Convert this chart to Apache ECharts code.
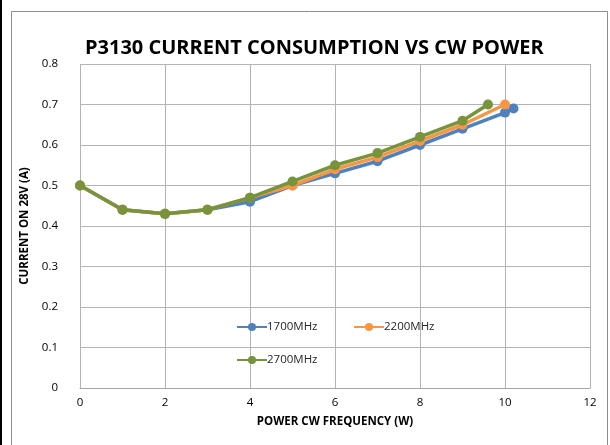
<!DOCTYPE html>
<html>
<head>
<meta charset="utf-8">
<script src="https://cdn.jsdelivr.net/npm/echarts@6/dist/echarts.min.js"></script>
<style>
  html, body { margin: 0; padding: 0; background: #fff; }
  #chart { width: 610px; height: 445px; }
</style>
</head>
<body>
<div id="chart"></div>
<script>
var seriesNames = ['1700MHz', '2200MHz', '2700MHz'];
var colors = ['#4f81bd', '#f79646', '#77933c'];

// x: power (W), y: current (A)
var x1700 = [0, 1, 2, 3, 4, 5, 6, 7, 8, 9, 10, 10.2];
var y1700 = [0.5, 0.44, 0.43, 0.44, 0.46, 0.50, 0.53, 0.56, 0.60, 0.64, 0.68, 0.69];
var x2200 = [0, 1, 2, 3, 4, 5, 6, 7, 8, 9, 10];
var y2200 = [0.5, 0.44, 0.43, 0.44, 0.47, 0.50, 0.54, 0.57, 0.61, 0.65, 0.70];
var x2700 = [0, 1, 2, 3, 4, 5, 6, 7, 8, 9, 9.6];
var y2700 = [0.5, 0.44, 0.43, 0.44, 0.47, 0.51, 0.55, 0.58, 0.62, 0.66, 0.70];

function pairs(xs, ys) {
    var res = [];
    for (var i = 0; i < xs.length; i++) res.push([xs[i], ys[i]]);
    return res;
}

var myChart = echarts.init(document.getElementById('chart'));
var font = 'Open Sans, Liberation Sans, sans-serif';

function makeSeries(idx, data) {
    return {
        name: seriesNames[idx],
        type: 'line',
        data: data,
        symbol: 'circle',
        symbolSize: 10,
        lineStyle: { width: 3.5, color: colors[idx] },
        itemStyle: { color: colors[idx] },
        z: 2 + idx
    };
}

var legendBase = {
    orient: 'horizontal',
    itemWidth: 30,
    itemHeight: 10,
    itemGap: 2,
    textStyle: { fontFamily: font, fontSize: 11.5, color: '#262626', padding: [0, 0, 0, -5] }
};

var option = {
    backgroundColor: '#fff',
    animation: false,
    color: colors,
    title: {
        text: 'P3130 CURRENT CONSUMPTION VS CW POWER',
        left: 80,
        top: 33,
        textStyle: { fontFamily: font, fontSize: 20, fontWeight: 'bold', color: '#000' }
    },
    legend: [
        Object.assign({}, legendBase, { data: [seriesNames[0]], left: 231, top: 316 }),
        Object.assign({}, legendBase, { data: [seriesNames[1]], left: 348, top: 316 }),
        Object.assign({}, legendBase, { data: [seriesNames[2]], left: 231, top: 349 })
    ],
    grid: { left: 80, right: 20, top: 64, bottom: 57 },
    xAxis: {
        type: 'value',
        min: 0,
        max: 12,
        interval: 2,
        name: 'POWER CW FREQUENCY (W)',
        nameLocation: 'middle',
        nameGap: 28,
        nameTextStyle: { fontFamily: font, fontSize: 11.5, fontWeight: 'bold', color: '#000' },
        axisLine: { show: true, lineStyle: { color: '#a6a6a6' } },
        axisTick: { show: false },
        axisLabel: { fontFamily: font, fontSize: 11.5, color: '#000', margin: 9 },
        splitLine: { show: true, lineStyle: { color: '#b3b3b3', width: 1 } }
    },
    yAxis: {
        type: 'value',
        min: 0,
        max: 0.8,
        interval: 0.1,
        name: 'CURRENT ON 28V (A)',
        nameLocation: 'middle',
        nameGap: 43,
        nameTextStyle: { fontFamily: font, fontSize: 11.5, fontWeight: 'bold', color: '#000' },
        axisLine: { show: false },
        axisTick: { show: false },
        axisLabel: { fontFamily: font, fontSize: 11.5, color: '#000', margin: 22,
            formatter: function (v) { return String(Math.round(v * 10) / 10); } },
        splitLine: { show: true, lineStyle: { color: '#b3b3b3', width: 1 } }
    },
    graphic: [
        { type: 'rect', shape: { x: 11.5, y: 11.5, width: 596, height: 440 },
          style: { fill: 'none', stroke: '#8c8c8c', lineWidth: 1 }, silent: true },
        { type: 'rect', shape: { x: 0, y: 0, width: 2, height: 445 },
          style: { fill: '#000' }, silent: true }
    ],
    series: [
        makeSeries(0, pairs(x1700, y1700)),
        makeSeries(1, pairs(x2200, y2200)),
        makeSeries(2, pairs(x2700, y2700))
    ]
};

myChart.setOption(option);
</script>
</body>
</html>
